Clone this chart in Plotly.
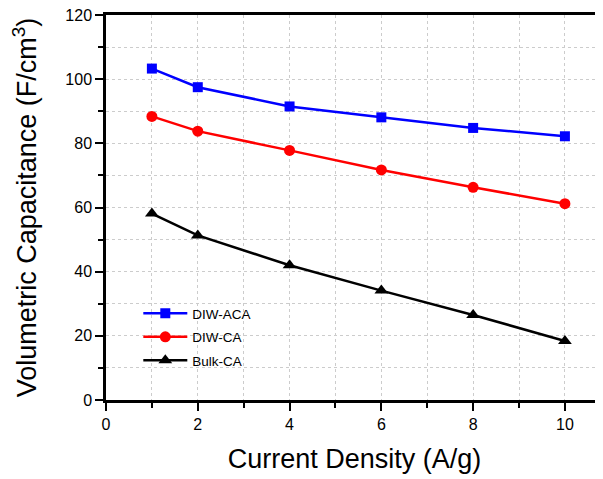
import plotly.graph_objects as go

current_density = [1, 2, 4, 6, 8, 10]
diw_aca = [103.3, 97.5, 91.5, 88.1, 84.8, 82.2]
diw_ca = [88.4, 83.8, 77.8, 71.7, 66.3, 61.2]
bulk_ca = [58.1, 51.3, 42.0, 34.1, 26.5, 18.4]

x_ticks = [0, 2, 4, 6, 8, 10]
y_ticks = [0, 20, 40, 60, 80, 100, 120]

FONT = "Arial, Liberation Sans, sans-serif"

fig = go.Figure()
series = [
    ("DIW-ACA", diw_aca, "#0000ff", "square", 10),
    ("DIW-CA", diw_ca, "#ff0000", "circle", 11),
    ("Bulk-CA", bulk_ca, "#000000", "triangle-up", 12),
]
for name, ys, color, sym, size in series:
    fig.add_trace(go.Scatter(
        x=current_density, y=ys, name=name, mode="lines+markers",
        legendgroup=name,
        line=dict(color=color, width=2.5),
        marker=dict(symbol=sym, size=size, color=color),
    ))

axis_common = dict(
    showline=True, linecolor="black", linewidth=2.5, mirror=True,
    ticks="outside", ticklen=8, tickwidth=2, tickcolor="black",
    showgrid=False, zeroline=False, automargin=False,
    ticklabeloverflow="allow",
    tickfont=dict(family=FONT, size=16, color="black"),
)

fig.update_xaxes(
    **axis_common, range=[0, 10.83], tickvals=x_ticks,
    minor=dict(dtick=1, tick0=0, ticks="outside", ticklen=5, tickwidth=2, tickcolor="black",
               showgrid=True, gridcolor="#cccccc", griddash="dot", gridwidth=1),
    title=dict(text="Current Density (A/g)", font=dict(family=FONT, size=27, color="black"), standoff=18),
)
fig.update_yaxes(
    **axis_common, range=[0, 120], tickvals=y_ticks,
    minor=dict(dtick=10, tick0=0, ticks="outside", ticklen=5, tickwidth=2, tickcolor="black",
               showgrid=True, gridcolor="#cccccc", griddash="dot", gridwidth=1),
    title=dict(text="Volumetric Capacitance (F/cm<sup>3</sup>)", font=dict(family=FONT, size=27, color="black"), standoff=22),
)

fig.update_layout(
    width=595, height=471,
    margin=dict(l=98, r=0, t=7, b=79),
    plot_bgcolor="white", paper_bgcolor="white",
    legend=dict(x=0.065, y=0.265, xanchor="left", yanchor="top",
                bgcolor="rgba(0,0,0,0)", font=dict(family=FONT, size=13.5, color="black"),
                itemwidth=44, tracegroupgap=3),
    showlegend=True,
)

fig.write_html("out.html")
